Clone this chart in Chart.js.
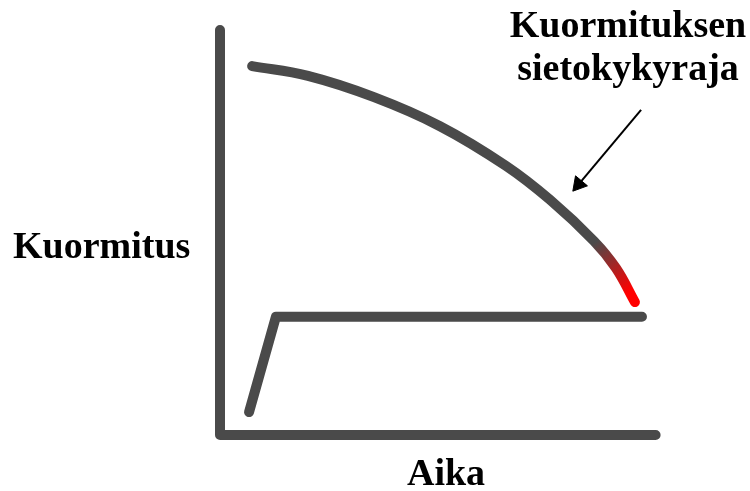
<!DOCTYPE html>
<html>
<head>
<meta charset="utf-8">
<style>
  html, body { margin: 0; padding: 0; background: #fff; }
  #wrap { width: 750px; height: 491px; }
</style>
<script src="https://cdn.jsdelivr.net/npm/chart.js@4/dist/chart.umd.min.js"></script>
</head>
<body>
<div id="wrap"><canvas id="chart" width="750" height="491"></canvas></div>
<script>
// data (aika = x, kuormitus = y)
const axisX = [0, 0, 9.9];
const axisY = [9.9, 0, 0];

const limitX = [0.73, 2.0, 3.5, 5.0, 6.5, 7.5, 8.5, 9.0, 9.43];
const limitY = [9.02, 8.78, 8.26, 7.55, 6.58, 5.75, 4.74, 4.08, 3.25];

const loadX = [0.66, 1.27, 9.59];
const loadY = [0.56, 2.89, 2.89];

const arrowX = [9.57, 8.15];
const arrowY = [7.95, 6.13];

const labelY = 'Kuormitus';
const labelX = 'Aika';
const labelLimit = ['Kuormituksen', 'sietokykyraja'];

const GRAY = '#4a4a4a';
const toPts = (xs, ys) => xs.map((x, i) => ({ x: x, y: ys[i] }));

// red end of the curve
function limitColor(context) {
  const chart = context.chart;
  if (!chart.chartArea) return GRAY;
  const sx = chart.scales.x, sy = chart.scales.y;
  const g = chart.ctx.createLinearGradient(
    sx.getPixelForValue(8.5), sy.getPixelForValue(4.7),
    sx.getPixelForValue(9.3), sy.getPixelForValue(3.5));
  g.addColorStop(0, GRAY);
  g.addColorStop(1, '#ff0000');
  return g;
}

// texts
const labelsPlugin = {
  id: 'labels',
  afterDraw(chart) {
    const c = chart.ctx;
    c.save();
    c.fillStyle = '#000';
    c.font = 'bold 38px "Liberation Serif", "Times New Roman", serif';
    c.textBaseline = 'alphabetic';
    c.textAlign = 'left';
    c.fillText(labelY, 13, 258);
    c.textAlign = 'center';
    c.fillText(labelX, 446, 485);
    c.fillText(labelLimit[0], 628, 37);
    c.fillText(labelLimit[1], 628, 80);
    c.restore();
  }
};

const ctx = document.getElementById('chart').getContext('2d');
const chart = new Chart(ctx, {
  type: 'scatter',
  data: {
    datasets: [{
      data: toPts(axisX, axisY),
      showLine: true,
      borderColor: GRAY,
      borderWidth: 10,
      borderCapStyle: 'round',
      borderJoinStyle: 'round',
      pointRadius: 0,
      clip: false
    }, {
      data: toPts(limitX, limitY),
      showLine: true,
      borderColor: limitColor,
      borderWidth: 10,
      borderCapStyle: 'round',
      tension: 0.4,
      pointRadius: 0,
      clip: false
    }, {
      data: toPts(loadX, loadY),
      showLine: true,
      borderColor: GRAY,
      borderWidth: 10,
      borderCapStyle: 'round',
      borderJoinStyle: 'round',
      pointRadius: 0,
      clip: false
    }, {
      data: toPts(arrowX, arrowY),
      showLine: true,
      borderColor: '#000',
      borderWidth: 2,
      pointStyle: 'triangle',
      pointRadius: [0, 9],
      pointRotation: 220,
      pointBackgroundColor: '#000',
      pointBorderColor: '#000',
      pointBorderWidth: 1,
      clip: false
    }]
  },
  options: {
    responsive: false,
    animation: false,
    layout: { padding: { left: 220, right: 90, top: 26, bottom: 56 } },
    scales: {
      x: { type: 'linear', min: 0, max: 10, display: false },
      y: { type: 'linear', min: 0, max: 10, display: false }
    },
    plugins: {
      legend: { display: false },
      tooltip: { enabled: false }
    }
  },
  plugins: [labelsPlugin]
});
</script>
</body>
</html>
